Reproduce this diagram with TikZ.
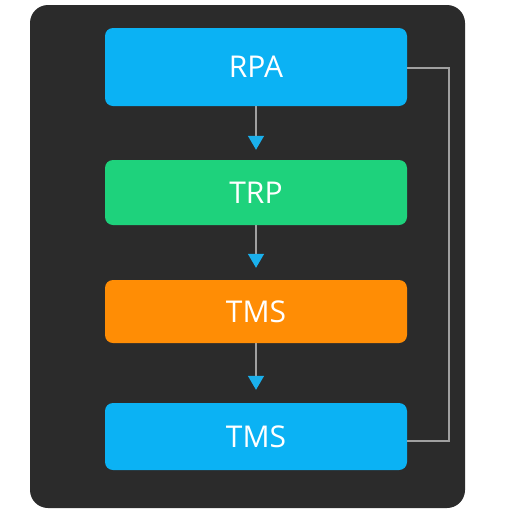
\documentclass[tikz,border=0pt]{standalone}
\usepackage{fontspec}
\setmainfont{Open Sans}
\usetikzlibrary{arrows.meta}
\definecolor{bgdark}{HTML}{2B2B2B}
\definecolor{cblue}{HTML}{0BB2F4}
\definecolor{cgreen}{HTML}{1ED27C}
\definecolor{corange}{HTML}{FF8D05}
\definecolor{cline}{HTML}{A0A0A0}
\definecolor{ctip}{HTML}{1AB0EC}
\tikzset{
  box/.style={rounded corners=8pt, minimum width=302pt, inner sep=0pt, text=white, font=\fontsize{30}{34}\selectfont},
  flow/.style={draw=cline, line width=1.3pt, -{Triangle[width=16pt,length=14pt,fill=ctip,color=ctip]}},
  loopline/.style={draw=cline, line width=1.3pt}
}
\begin{document}
\begin{tikzpicture}[x=1pt,y=-1pt]
\useasboundingbox (0,0) rectangle (512,512);
\fill[white] (0,0) rectangle (512,512);
\fill[bgdark, rounded corners=18pt] (30,5) rectangle (465,508);
\node[box, fill=cblue, minimum height=78pt] (rpa) at (256,67) {RPA};
\node[box, fill=cgreen, minimum height=65pt] (trp) at (256,192.5) {TRP};
\node[box, fill=corange, minimum height=63pt] (tms1) at (256,311.5) {TMS};
\node[box, fill=cblue, minimum height=67pt] (tms2) at (256,436.5) {TMS};
\draw[flow] (rpa.south) -- ([yshift=10pt]trp.north);
\draw[flow] (trp.south) -- ([yshift=12pt]tms1.north);
\draw[flow] (tms1.south) -- ([yshift=13pt]tms2.north);
\coordinate (c1) at (449,68);
\coordinate (c2) at (449,441);
\draw[loopline] (rpa.east |- c1) -- (c1) -- (c2) -- (tms2.east |- c2);
\end{tikzpicture}
\end{document}
